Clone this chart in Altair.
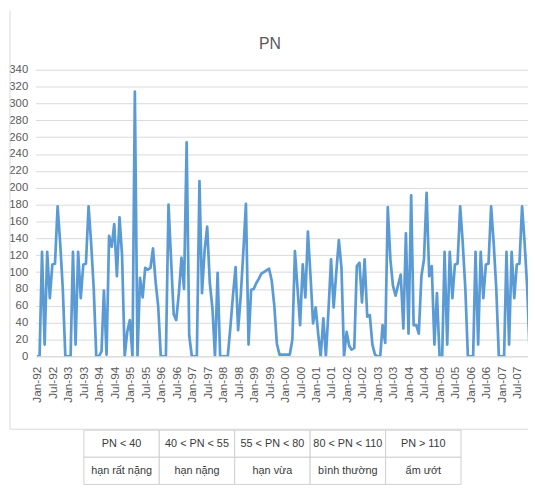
import altair as alt
import pandas as pd

# Monthly PN values (Jan-1992 .. Dec-2007)
pn_1992 = [0, 0, 124, 14, 124, 69, 109, 110, 178, 135, 80, 0]
pn_1993 = [0, 0, 124, 14, 124, 69, 109, 110, 178, 135, 80, 0]
pn_1994 = [0, 6, 78, 2, 143, 130, 157, 95, 165, 120, 0, 29]
pn_1995 = [43, 0, 314, 0, 93, 70, 105, 103, 105, 128, 88, 60]
pn_1996 = [0, 0, 0, 180, 115, 50, 43, 75, 117, 80, 254, 25]
pn_1997 = [0, 0, 0, 208, 75, 126, 154, 87, 57, 0, 99, 0]
pn_1998 = [0, 0, 0, 35, 72, 106, 31, 72, 125, 181, 14, 79]
pn_1999 = [80, 87, 92, 98, 100, 102, 104, 90, 60, 15, 2, 2]
pn_2000 = [2, 2, 2, 20, 125, 80, 37, 109, 70, 148, 95, 39]
pn_2001 = [58, 25, 0, 45, 0, 55, 115, 58, 100, 138, 105, 0]
pn_2002 = [29, 12, 8, 10, 107, 111, 64, 115, 47, 49, 14, 2]
pn_2003 = [0, 0, 37, 16, 177, 115, 84, 72, 85, 97, 33, 146]
pn_2004 = [27, 191, 37, 37, 27, 95, 115, 194, 95, 107, 14, 75]
pn_2005 = [0, 0, 124, 14, 124, 69, 109, 110, 178, 135, 80, 0]
pn_2006 = [0, 0, 124, 14, 124, 69, 109, 110, 178, 135, 80, 0]
pn_2007 = [0, 0, 124, 14, 124, 69, 109, 110, 178, 135, 80, 0]

years = [pn_1992, pn_1993, pn_1994, pn_1995, pn_1996, pn_1997, pn_1998, pn_1999,
         pn_2000, pn_2001, pn_2002, pn_2003, pn_2004, pn_2005, pn_2006, pn_2007]

y_ticks = list(range(0, 341, 20))

thresholds = ["PN < 40", "40 < PN < 55", "55 < PN < 80", "80 < PN < 110", "PN > 110"]
classes = ["hạn rất nặng", "hạn nặng", "hạn vừa", "bình thường", "ẩm ướt"]

values = [v for yr in years for v in yr]
months = [f"{1992 + k // 12}-{k % 12 + 1:02d}-01T00:00:00" for k in range(len(values))]
df = pd.DataFrame({"month": months, "pn": values})

tick_dates = [alt.DateTime(year=1992 + k // 2, month=1 if k % 2 == 0 else 7, date=1) for k in range(32)]
x_domain = [alt.DateTime(year=1991, month=12, date=16), alt.DateTime(year=2007, month=11, date=10)]

FONT = "Liberation Sans"
GREY = "#595959"

line = alt.Chart(df).mark_line(color="#5B9BD5", strokeWidth=2.75, strokeJoin="round", clip=True).encode(
    x=alt.X("month:T", scale=alt.Scale(domain=x_domain),
            axis=alt.Axis(values=tick_dates, format="%b-%y", labelAngle=270, grid=False,
                          ticks=False, tickSize=0, labelPadding=10, domainColor="#d9d9d9",
                          labelColor=GREY, labelFontSize=12, labelFont=FONT, title=None,
                          labelOverlap=False, labelFlush=False)),
    y=alt.Y("pn:Q", scale=alt.Scale(domain=[0, 340], nice=False),
            axis=alt.Axis(values=y_ticks, grid=True, gridColor="#d9d9d9", domain=False,
                          ticks=False, labelPadding=8, labelColor=GREY, labelFontSize=11.5,
                          labelFont=FONT, title=None)),
)

cells = pd.DataFrame({
    "col": list(range(len(thresholds))) * 2,
    "row": [0] * len(thresholds) + [1] * len(classes),
    "label": thresholds + classes,
})

tx = alt.X("col:O", scale=alt.Scale(range=[49, 432], paddingInner=0, paddingOuter=0), axis=None)
ty = alt.Y("row:O", scale=alt.Scale(range=[366, 421], paddingInner=0, paddingOuter=0), axis=None)

table_rect = alt.Chart(cells).mark_rect(fill="white", stroke="#cfcfcf", strokeWidth=1).encode(x=tx, y=ty)
table_text = alt.Chart(cells).mark_text(font=FONT, fontSize=11, color="#3a3a3a", baseline="middle").encode(
    x=tx, y=ty, text="label:N")

one = pd.DataFrame({"k": [0]})
frame_left = alt.Chart(one).mark_rule(color="#d9d9d9", strokeWidth=1).encode(
    x=alt.value(-26), y=alt.value(-60), y2=alt.value(365))
frame_bottom = alt.Chart(one).mark_rule(color="#d9d9d9", strokeWidth=1).encode(
    x=alt.value(-26), x2=alt.value(500), y=alt.value(365))

chart = alt.layer(frame_left, frame_bottom, line, table_rect, table_text).resolve_scale(
    x="independent", y="independent"
).properties(
    width=500, height=291,
    autosize=alt.AutoSizeParams(type="none"),
    padding={"left": 28, "top": 59, "right": 0, "bottom": 132},
    title=alt.TitleParams("PN", font=FONT, fontSize=16, fontWeight="normal", color=GREY,
                          anchor="middle", dx=-12, dy=56, offset=14),
    background="white",
).configure_view(stroke=None)

chart.save("out.html", embed_options={"renderer": "svg", "actions": False})
